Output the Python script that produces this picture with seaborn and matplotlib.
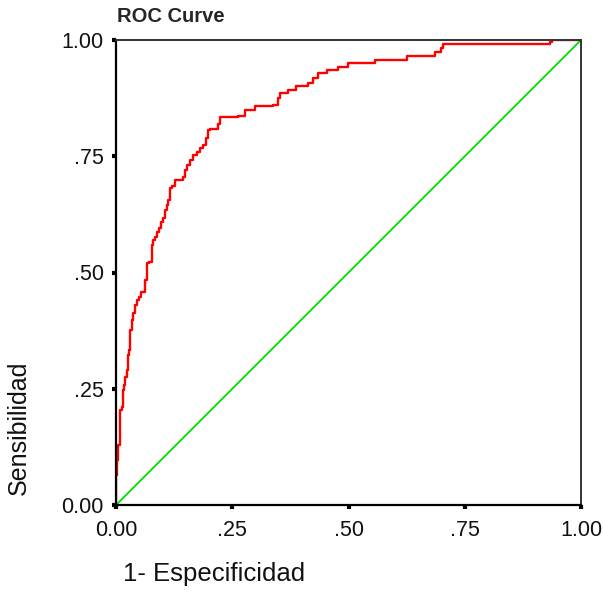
import numpy as np
import pandas as pd
import seaborn as sns
import matplotlib
matplotlib.use('Agg')
import matplotlib.pyplot as plt

# ROC curve vertices (1-specificity, sensitivity)
fpr = [0.000, 0.001, 0.003, 0.005, 0.009, 0.012, 0.014, 0.017, 0.019, 0.023,
       0.025, 0.028, 0.030, 0.034, 0.037, 0.041, 0.045, 0.049, 0.053, 0.062,
       0.066, 0.071, 0.077, 0.080, 0.084, 0.088, 0.093, 0.097, 0.100, 0.105,
       0.109, 0.112, 0.116, 0.120, 0.127, 0.145, 0.148, 0.153, 0.159, 0.166,
       0.174, 0.181, 0.188, 0.194, 0.198, 0.202, 0.219, 0.224, 0.262, 0.277,
       0.299, 0.338, 0.348, 0.353, 0.370, 0.387, 0.413, 0.424, 0.434, 0.454,
       0.477, 0.499, 0.557, 0.626, 0.686, 0.699, 0.703, 0.933, 0.938, 1.000]
tpr = [0.000, 0.065, 0.097, 0.129, 0.204, 0.211, 0.247, 0.258, 0.275, 0.290,
       0.323, 0.333, 0.376, 0.398, 0.413, 0.430, 0.441, 0.447, 0.458, 0.484,
       0.520, 0.523, 0.559, 0.570, 0.576, 0.587, 0.596, 0.609, 0.617, 0.634,
       0.645, 0.656, 0.682, 0.686, 0.699, 0.705, 0.720, 0.731, 0.742, 0.753,
       0.759, 0.768, 0.774, 0.789, 0.806, 0.809, 0.819, 0.834, 0.837, 0.849,
       0.858, 0.860, 0.875, 0.886, 0.892, 0.901, 0.908, 0.918, 0.929, 0.935,
       0.942, 0.951, 0.957, 0.966, 0.974, 0.983, 0.991, 0.996, 1.000, 1.000]
diag = [0.0, 1.0]
ticks = [0.0, 0.25, 0.5, 0.75, 1.0]
tick_labels = ['0.00', '.25', '.50', '.75', '1.00']

df = pd.DataFrame({'fpr': fpr, 'tpr': tpr})
df_diag = pd.DataFrame({'x': diag, 'y': diag})

sns.set_theme(style='white')
plt.rcParams['font.family'] = ['Liberation Sans', 'DejaVu Sans']

fig = plt.figure(figsize=(6.03, 5.93), dpi=100)
ax = fig.add_axes([116/603, 88/593, 465/603, 465/593])

sns.lineplot(data=df_diag, x='x', y='y', color='#00e000', linewidth=1.3,
             estimator=None, sort=False, ax=ax)
sns.lineplot(data=df, x='fpr', y='tpr', color='#ff0000', linewidth=1.7,
             drawstyle='steps-post', estimator=None, sort=False, ax=ax)

ax.set_xlim(0, 1)
ax.set_ylim(0, 1)
ax.set_xticks(ticks)
ax.set_xticklabels(tick_labels)
ax.set_yticks(ticks)
ax.set_yticklabels(tick_labels)
ax.set_xlabel('')
ax.set_ylabel('')
ax.tick_params(axis='both', direction='out', length=3, width=3, color='black',
               labelsize=15.5, labelcolor='#111111', bottom=True, left=True)
ax.tick_params(axis='x', pad=8)
ax.tick_params(axis='y', pad=6)
for side in ['left', 'bottom']:
    ax.spines[side].set_color('black')
    ax.spines[side].set_linewidth(1.6)
for side in ['top', 'right']:
    ax.spines[side].set_color('#333333')
    ax.spines[side].set_linewidth(1.4)

fig.text(117/603, 1 - 17/593, 'ROC Curve', ha='left', va='center',
         fontsize=14.5, fontweight='bold',
         family=['Liberation Sans Narrow', 'Liberation Sans', 'DejaVu Sans'])
fig.text(19/603, 1 - 428/593, 'Sensibilidad', rotation=90, ha='center',
         va='center', fontsize=18, color='#111111')
fig.text(123/603, 1 - 574/593, '1- Especificidad', ha='left', va='center',
         fontsize=18.5, color='#111111')

fig.savefig('out.png', dpi=100)
